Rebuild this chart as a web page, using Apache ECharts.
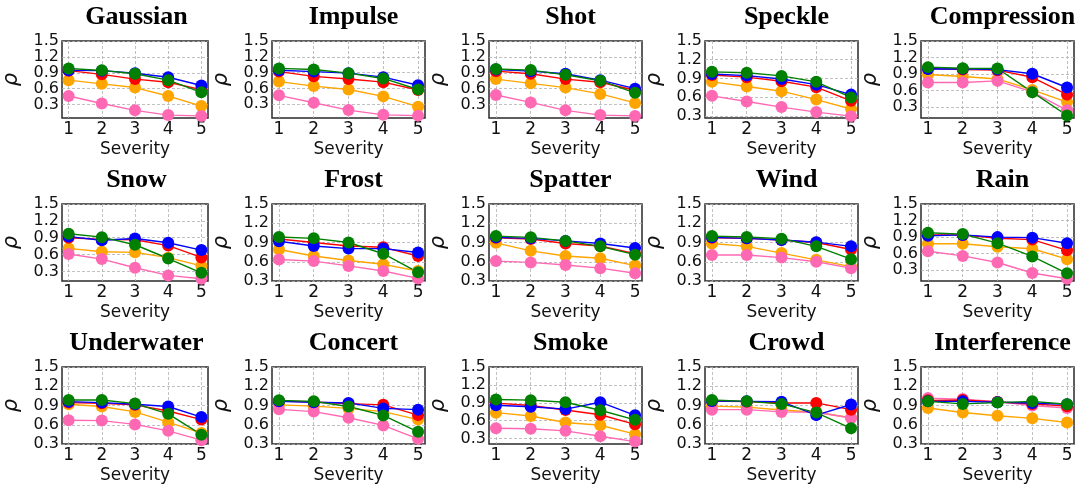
<!DOCTYPE html>
<html>
<head>
<meta charset="utf-8">
<script src="https://cdn.jsdelivr.net/npm/echarts@6/dist/echarts.min.js"></script>
<style>
  html, body { margin: 0; padding: 0; background: #fff; }
  #chart { width: 1076px; height: 486px; }
</style>
</head>
<body>
<div id="chart"></div>
<script>
// datos, un panel por fila
const severidad = [1, 2, 3, 4, 5];
const titulos = ["Gaussian", "Impulse", "Shot", "Speckle", "Compression",
  "Snow", "Frost", "Spatter", "Wind", "Rain",
  "Underwater", "Concert", "Smoke", "Crowd", "Interference"];
const ticksY = [0.3, 0.6, 0.9, 1.2, 1.5];
const minY = [0.045, 0.04, 0.045, 0.265, 0.1, 0.13, 0.3, 0.3, 0.3, 0.105, 0.3, 0.3, 0.21, 0.3, 0.3];

const azul = [
  [0.945, 0.94, 0.89, 0.815, 0.66], [0.945, 0.92, 0.89, 0.815, 0.66], [0.96, 0.93, 0.88, 0.76, 0.60],
  [0.97, 0.945, 0.89, 0.80, 0.64], [0.99, 0.995, 0.98, 0.905, 0.655],
  [0.92, 0.855, 0.885, 0.81, 0.68], [0.92, 0.845, 0.805, 0.805, 0.745], [0.98, 0.965, 0.925, 0.885, 0.815],
  [0.98, 0.965, 0.94, 0.905, 0.84], [0.925, 0.94, 0.90, 0.89, 0.79],
  [0.96, 0.945, 0.92, 0.885, 0.72], [0.965, 0.95, 0.94, 0.855, 0.835], [0.86, 0.835, 0.795, 0.91, 0.69],
  [0.97, 0.965, 0.96, 0.75, 0.915], [0.965, 0.965, 0.95, 0.94, 0.92]
];
const rojo = [
  [0.94, 0.87, 0.78, 0.72, 0.58], [0.92, 0.83, 0.78, 0.72, 0.57], [0.93, 0.88, 0.78, 0.72, 0.57],
  [0.955, 0.92, 0.855, 0.76, 0.54], [1.0, 0.98, 0.97, 0.84, 0.525],
  [0.90, 0.87, 0.865, 0.76, 0.55], [0.955, 0.90, 0.845, 0.825, 0.69], [0.975, 0.955, 0.885, 0.845, 0.725],
  [0.975, 0.965, 0.94, 0.90, 0.79], [0.94, 0.94, 0.88, 0.855, 0.66],
  [0.945, 0.935, 0.91, 0.815, 0.68], [0.97, 0.955, 0.93, 0.91, 0.75], [0.895, 0.855, 0.78, 0.70, 0.54],
  [0.97, 0.96, 0.94, 0.94, 0.835], [0.98, 0.985, 0.955, 0.925, 0.89]
];
const verde = [
  [0.98, 0.945, 0.88, 0.76, 0.53], [0.98, 0.96, 0.89, 0.79, 0.58], [0.97, 0.95, 0.86, 0.75, 0.52],
  [1.005, 0.99, 0.94, 0.845, 0.595], [1.025, 1.005, 1.0, 0.57, 0.145],
  [0.97, 0.91, 0.775, 0.53, 0.275], [0.985, 0.965, 0.90, 0.725, 0.435], [1.0, 0.98, 0.925, 0.84, 0.71],
  [1.0, 0.985, 0.96, 0.84, 0.64], [0.98, 0.955, 0.79, 0.55, 0.245],
  [0.985, 0.985, 0.93, 0.77, 0.445], [0.98, 0.965, 0.885, 0.745, 0.49], [0.955, 0.945, 0.91, 0.775, 0.615],
  [0.985, 0.965, 0.925, 0.79, 0.545], [0.965, 0.925, 0.945, 0.965, 0.92]
];
const naranja = [
  [0.76, 0.69, 0.62, 0.46, 0.27], [0.73, 0.645, 0.58, 0.45, 0.255], [0.78, 0.70, 0.62, 0.50, 0.33],
  [0.845, 0.77, 0.695, 0.56, 0.41], [0.89, 0.855, 0.81, 0.61, 0.39],
  [0.71, 0.65, 0.64, 0.545, 0.40], [0.79, 0.69, 0.62, 0.56, 0.455], [0.895, 0.77, 0.69, 0.655, 0.54],
  [0.885, 0.84, 0.735, 0.63, 0.525], [0.78, 0.78, 0.725, 0.69, 0.50],
  [0.92, 0.885, 0.80, 0.64, 0.47], [0.91, 0.89, 0.855, 0.805, 0.68], [0.735, 0.68, 0.57, 0.525, 0.375],
  [0.89, 0.875, 0.83, 0.795, 0.71], [0.86, 0.79, 0.74, 0.70, 0.635]
];
const rosa = [
  [0.46, 0.32, 0.19, 0.10, 0.085], [0.47, 0.33, 0.19, 0.10, 0.085], [0.48, 0.34, 0.19, 0.10, 0.085],
  [0.62, 0.53, 0.44, 0.36, 0.295], [0.745, 0.745, 0.775, 0.575, 0.24],
  [0.61, 0.52, 0.365, 0.23, 0.17], [0.635, 0.61, 0.535, 0.455, 0.34], [0.61, 0.59, 0.55, 0.50, 0.42],
  [0.705, 0.705, 0.665, 0.60, 0.50], [0.645, 0.56, 0.44, 0.25, 0.145],
  [0.67, 0.665, 0.605, 0.505, 0.36], [0.84, 0.805, 0.71, 0.59, 0.38], [0.475, 0.465, 0.43, 0.34, 0.25],
  [0.835, 0.835, 0.80, 0.795, 0.705], [1.015, 1.0, 0.96, 0.90, 0.86]
];

const colLeft = [55, 272, 489, 705, 921];
const rowTop = [41, 204, 367];
const anchoPlot = 153;
const altoPlot = 77;

// orden de dibujo: el ultimo queda arriba
const seriesInfo = [
  { datos: naranja, color: "#ffa500" },
  { datos: rosa, color: "#ff69b4" },
  { datos: rojo, color: "#ff0000" },
  { datos: azul, color: "#0000ff" },
  { datos: verde, color: "#008000" }
];

const grid = [], xAxis = [], yAxis = [], title = [], series = [];
const lineaGrid = { show: true, lineStyle: { color: "#b0b0b0", type: [3, 2], width: 0.8 } };

titulos.forEach((nombre, i) => {
  const fila = Math.floor(i / 5), col = i % 5;
  const left = colLeft[col], top = rowTop[fila];
  grid.push({
    left: left, top: top, width: anchoPlot, height: altoPlot,
    show: true, borderColor: "#2a2a2a", borderWidth: 1.5, backgroundColor: "#fff"
  });
  title.push({
    text: nombre,
    left: left + anchoPlot / 2, top: top - 42, textAlign: "center",
    textStyle: { fontFamily: "Liberation Serif", fontWeight: "bold", fontSize: 26, color: "#000" }
  });
  xAxis.push({
    type: "value", gridIndex: i, min: 0.8, max: 5.2,
    name: "Severity", nameLocation: "middle", nameGap: 23,
    nameTextStyle: { fontFamily: "DejaVu Sans", fontSize: 17, color: "#111" },
    axisLine: { show: false }, axisTick: { show: false, customValues: severidad },
    axisLabel: { customValues: severidad, interval: 0, margin: 3, hideOverlap: false,
      fontFamily: "DejaVu Sans", fontSize: 17, color: "#111" },
    splitLine: lineaGrid
  });
  yAxis.push({
    type: "value", gridIndex: i, min: minY[i], max: 1.5,
    name: "ρ", nameLocation: "middle", nameGap: 40, nameRotate: 90,
    nameTextStyle: { fontFamily: "DejaVu Sans", fontStyle: "italic", fontSize: 21, color: "#111" },
    axisLine: { show: false }, axisTick: { show: false, customValues: ticksY },
    axisLabel: { customValues: ticksY, interval: 0, margin: 3, hideOverlap: false,
      fontFamily: "DejaVu Sans", fontSize: 16, lineHeight: 14, color: "#111",
      formatter: (v) => v.toFixed(1) },
    splitLine: lineaGrid
  });
  seriesInfo.forEach((s) => {
    series.push({
      type: "line", xAxisIndex: i, yAxisIndex: i,
      data: severidad.map((x, k) => [x, s.datos[i][k]]),
      symbol: "circle", symbolSize: 12, showSymbol: true,
      lineStyle: { color: s.color, width: 1.4 },
      itemStyle: { color: s.color },
      animation: false, silent: true
    });
  });
});

const myChart = echarts.init(document.getElementById("chart"));
myChart.setOption({ animation: false, title, grid, xAxis, yAxis, series });
</script>
</body>
</html>
